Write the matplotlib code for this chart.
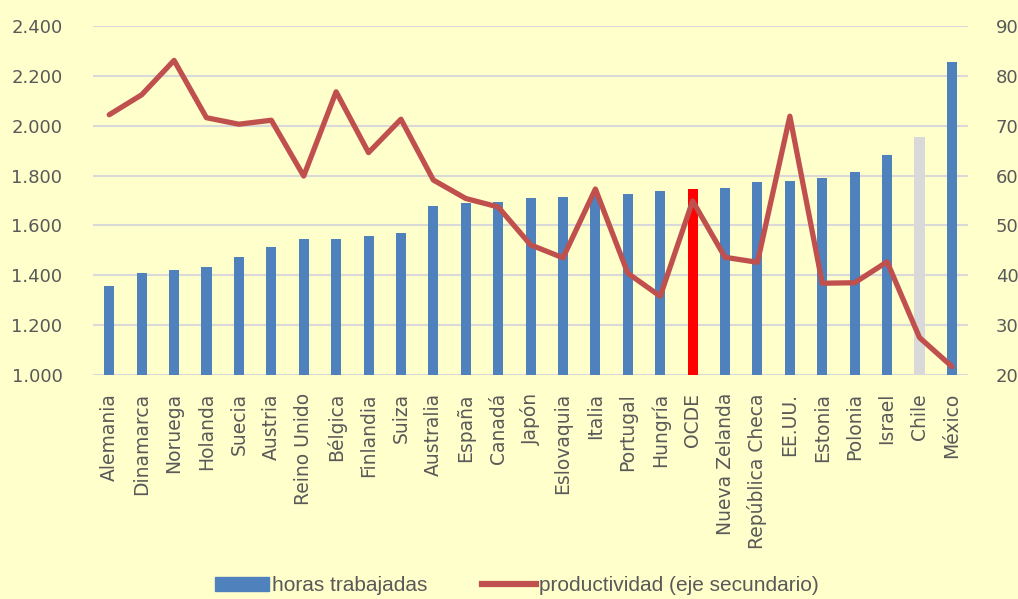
import matplotlib.pyplot as plt
import numpy as np
from matplotlib.patches import Patch
from matplotlib.lines import Line2D

paises = ['Alemania', 'Dinamarca', 'Noruega', 'Holanda', 'Suecia', 'Austria',
          'Reino Unido', 'Bélgica', 'Finlandia', 'Suiza', 'Australia', 'España',
          'Canadá', 'Japón', 'Eslovaquia', 'Italia', 'Portugal', 'Hungría', 'OCDE',
          'Nueva Zelanda', 'República Checa', 'EE.UU.', 'Estonia', 'Polonia',
          'Israel', 'Chile', 'México']
horas = [1357, 1408, 1420, 1434, 1472, 1512, 1545, 1545, 1557, 1570, 1676, 1688,
         1695, 1711, 1715, 1725, 1728, 1740, 1745, 1752, 1775, 1779, 1792, 1815,
         1884, 1954, 2257]
productividad = [72.2, 76.2, 83.1, 71.6, 70.3, 71.1, 59.9, 76.8, 64.6, 71.3, 59.1,
                 55.4, 53.7, 46.1, 43.5, 57.3, 40.4, 35.8, 54.9, 43.6, 42.6, 71.9,
                 38.4, 38.5, 42.7, 27.5, 21.7]

bg = '#FFFFCC'
azul = '#4F81BD'
rojo_linea = '#C0504D'
gris_txt = '#595959'

colores = [azul] * len(paises)
colores[paises.index('OCDE')] = '#FF0000'
colores[paises.index('Chile')] = '#D9D9D9'

fig = plt.figure(figsize=(10.18, 5.99), dpi=100, facecolor=bg)
ax = fig.add_axes([0.0914, 0.374, 0.8596, 0.5826])
ax.set_facecolor(bg)
x = np.arange(len(paises))

ax.bar(x, np.array(horas) - 1000, bottom=1000, width=0.31, color=colores, zorder=2)
ax.set_ylim(1000, 2400)
ax.set_xlim(-0.5, len(paises) - 0.5)
ax.set_yticks(range(1000, 2401, 200))
ax.set_yticklabels([f'{v // 1000}.{v % 1000:03d}' for v in range(1000, 2401, 200)])
ax.grid(axis='y', color='#D9D9D9', linewidth=1.5, zorder=0)
ax.set_xticks(x)
ax.set_xticklabels(paises, rotation=90, fontsize=13.5)
for s in ax.spines.values():
    s.set_visible(False)
ax.tick_params(length=0, colors=gris_txt)
ax.tick_params(axis='y', pad=22, labelsize=13)
ax.tick_params(axis='x', pad=13)

ax2 = ax.twinx()
ax2.plot(x, productividad, color=rojo_linea, linewidth=3.8, zorder=3,
         solid_joinstyle='round', solid_capstyle='round')
ax2.set_ylim(20, 90)
ax2.set_yticks(range(20, 91, 10))
for s in ax2.spines.values():
    s.set_visible(False)
ax2.tick_params(length=0, colors=gris_txt, labelsize=13, pad=20)

handles = [Patch(color=azul, label='horas trabajadas'),
           Line2D([], [], color=rojo_linea, linewidth=4.5, label='productividad (eje secundario)')]
fig.legend(handles=handles, loc='center', bbox_to_anchor=(0.508, 0.022), ncol=2,
           frameon=False, labelcolor=gris_txt, handlelength=2.6,
           columnspacing=2.6, handletextpad=0.15,
           prop={'family': 'Liberation Sans', 'size': 15})

fig.savefig('out.png', dpi=100, facecolor=bg)
